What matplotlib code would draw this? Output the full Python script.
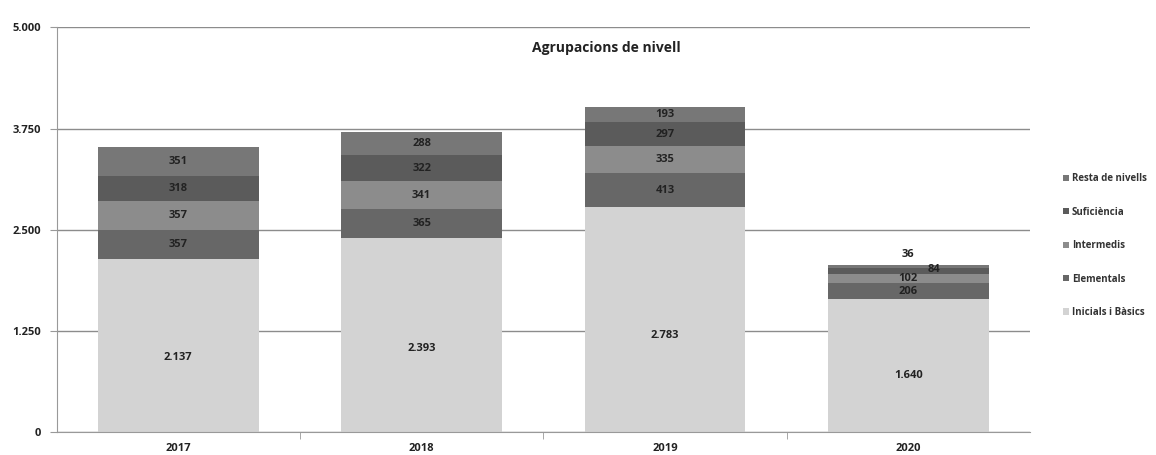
import matplotlib.pyplot as plt
import numpy as np
from matplotlib.ticker import FuncFormatter

years = ['2017', '2018', '2019', '2020']
inicials = [2137, 2393, 2783, 1640]
elementals = [357, 365, 413, 206]
intermedis = [357, 341, 335, 102]
suficiencia = [318, 322, 297, 84]
resta = [351, 288, 193, 36]

series = [
    ('Inicials i Bàsics', inicials, '#d3d3d3'),
    ('Elementals', elementals, '#676767'),
    ('Intermedis', intermedis, '#8c8c8c'),
    ('Suficiència', suficiencia, '#5b5b5b'),
    ('Resta de nivells', resta, '#777777'),
]


def fmt(v):
    return f'{int(v):,}'.replace(',', '.')


def main():
    plt.rcParams['font.family'] = ['Open Sans', 'DejaVu Sans']
    fig = plt.figure(figsize=(11.56, 4.55), dpi=100)
    ax = fig.add_axes([0.049, 0.05, 0.842, 0.89])

    x = np.arange(len(years))
    bottom = np.zeros(len(years))
    bars = []
    for name, vals, color in series:
        ax.bar(x, vals, 0.66, bottom=bottom, color=color, label=name, zorder=2)
        bars.append((name, vals, bottom.copy()))
        bottom += np.array(vals)

    # value labels
    for name, vals, bot in bars:
        for i, v in enumerate(vals):
            xp = x[i]
            if i == 3 and name == 'Resta de nivells':
                ax.text(xp, bot[i] + v + 60, fmt(v), ha='center', va='bottom',
                        fontsize=8, fontweight='bold', color='#222222')
                continue
            if i == 3 and name == 'Suficiència':
                ax.text(xp + 0.08, bot[i] + v / 2 + 20, fmt(v), ha='left', va='center',
                        fontsize=8, fontweight='bold', color='#222222')
                continue
            y = bot[i] + v / 2
            if name == 'Inicials i Bàsics':
                y = bot[i] + v * 0.43
            ax.text(xp, y, fmt(v), ha='center', va='center',
                    fontsize=8, fontweight='bold', color='#222222')

    ax.set_ylim(0, 5000)
    ax.set_xlim(-0.5, 3.5)
    ax.set_yticks([0, 1250, 2500, 3750, 5000])
    ax.yaxis.set_major_formatter(FuncFormatter(lambda v, p: fmt(v)))
    ax.set_xticks(x)
    ax.set_xticklabels(years, fontweight='bold', fontsize=8, color='#222222')
    for lbl in ax.get_yticklabels():
        lbl.set_fontweight('bold')
        lbl.set_fontsize(8)
        lbl.set_color('#222222')
    ax.set_xticks([0.5, 1.5, 2.5], minor=True)
    ax.tick_params(axis='x', which='major', length=0, pad=8)
    ax.tick_params(axis='x', which='minor', length=5, color='#999999')
    ax.tick_params(axis='y', length=5, color='#999999', pad=6)

    ax.grid(axis='y', color='#8c8c8c', linewidth=1.0, zorder=0)
    for side in ['top', 'right']:
        ax.spines[side].set_visible(False)
    ax.spines['left'].set_color('#999999')
    ax.spines['bottom'].set_color('#999999')

    ax.text(0.565, 0.95, 'Agrupacions de nivell', transform=ax.transAxes,
            ha='center', va='center', fontsize=10, fontweight='bold', color='#222222')

    handles, labels = ax.get_legend_handles_labels()
    leg = fig.legend(handles[::-1], labels[::-1], loc='center left',
                     bbox_to_anchor=(0.912, 0.46), frameon=False,
                     handlelength=0.6, handleheight=0.6, handletextpad=0.3,
                     labelspacing=2.3, prop={'size': 7, 'weight': 'bold'})
    for t in leg.get_texts():
        t.set_color('#333333')

    plt.savefig('out.png', dpi=100)


if __name__ == "__main__":
    main()
